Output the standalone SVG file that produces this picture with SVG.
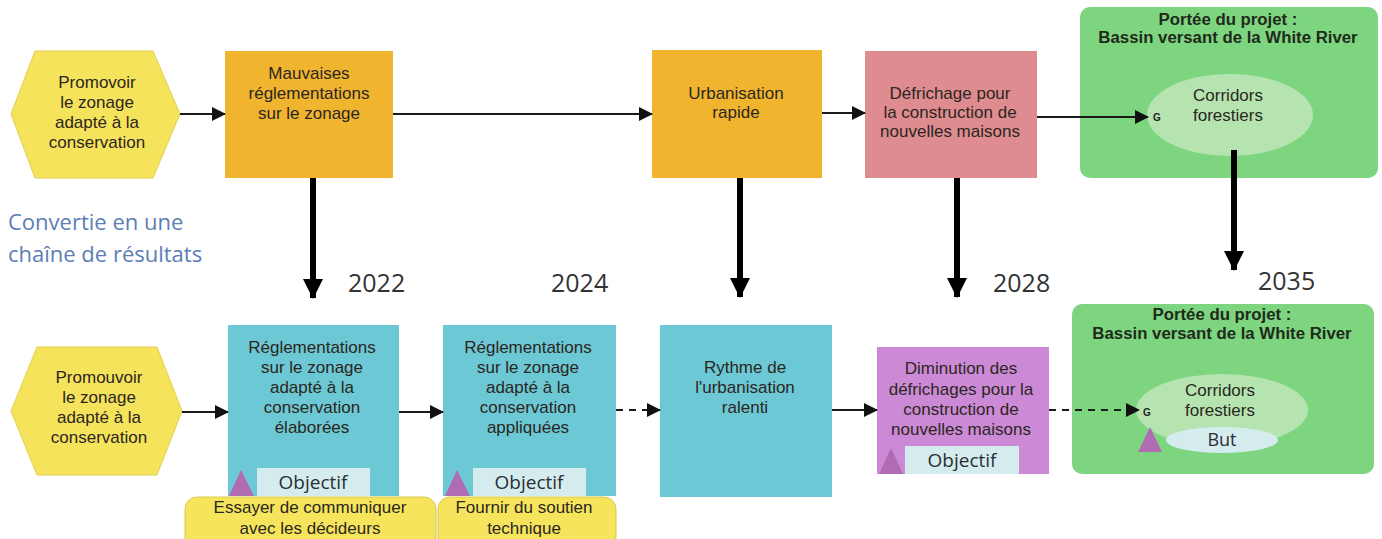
<svg xmlns="http://www.w3.org/2000/svg" width="1382" height="539" viewBox="0 0 1382 539">
<style>
.t{font-family:"Liberation Sans",Arial,sans-serif;font-size:17px;fill:#2b2620;text-anchor:middle}
.tb{font-family:"Liberation Sans",Arial,sans-serif;font-size:16.8px;font-weight:bold;fill:#1f2a1c;text-anchor:middle}
.os{font-family:"Open Sans",sans-serif;fill:#2a2f33;text-anchor:middle}
.yr{font-family:"Open Sans",sans-serif;font-size:25px;fill:#333}
.hex{fill:#F6E35C;stroke:#E3CF4A;stroke-width:1}
.org{fill:#F0B42F}
.pink{fill:#DF8C90}
.cyan{fill:#6CC8D5}
.purple{fill:#CC8AD6}
.green{fill:#7ED57F}
.ell{fill:#B5E4B1}
.obj{fill:#D5ECEF}
.tri{fill:#B06BB3}
.yel{fill:#F6E55C;stroke:#D9C850;stroke-width:1}
.thin{stroke:#1a1a1a;stroke-width:2;fill:none}
.dash{stroke:#1a1a1a;stroke-width:2;fill:none;stroke-dasharray:7 6}
.thick{stroke:#000;stroke-width:6;fill:none}
</style>
<defs>
<marker id="ah" viewBox="0 0 14 14" markerWidth="14" markerHeight="14" refX="13" refY="7" orient="auto" markerUnits="userSpaceOnUse">
<path d="M0,0 L14,7 L0,14 z" fill="#111"/>
</marker>
<marker id="ahb" viewBox="0 0 22 20" markerWidth="22" markerHeight="20" refX="19" refY="10" orient="auto" markerUnits="userSpaceOnUse">
<path d="M0,0 L20,10 L0,20 z" fill="#000"/>
</marker>
</defs>

<rect width="1382" height="539" fill="#fff"/>

<g id="label-convertie">
<text x="8" y="230" style="font-family:'Open Sans',sans-serif;font-size:22px;fill:#5B7EB5">Convertie en une</text>
<text x="8" y="262" style="font-family:'Open Sans',sans-serif;font-size:22px;fill:#5B7EB5">chaîne de résultats</text>
</g>

<g id="years">
<text class="yr" x="348" y="292">2022</text>
<text class="yr" x="551" y="292">2024</text>
<text class="yr" x="993" y="292">2028</text>
<text class="yr" x="1258" y="290">2035</text>
</g>

<!-- Top row -->
<g id="top-hex">
<polygon class="hex" points="11,114 35,51 153,51 180,114 153,178 35,178"/>
<text class="t" x="97" y="88">Promovoir</text>
<text class="t" x="97" y="108">le zonage</text>
<text class="t" x="97" y="128">adapté à la</text>
<text class="t" x="97" y="148">conservation</text>
</g>

<g id="top-mauvaises">
<rect class="org" x="225" y="51" width="168" height="127"/>
<text class="t" x="309" y="79">Mauvaises</text>
<text class="t" x="309" y="99">réglementations</text>
<text class="t" x="309" y="119">sur le zonage</text>
</g>

<g id="top-urbanisation">
<rect class="org" x="652" y="50" width="170" height="128"/>
<text class="t" x="736" y="99">Urbanisation</text>
<text class="t" x="736" y="118">rapide</text>
</g>

<g id="top-defrichage">
<rect class="pink" x="865" y="51" width="172" height="127"/>
<text class="t" x="950" y="99">Défrichage pour</text>
<text class="t" x="950" y="118">la construction de</text>
<text class="t" x="950" y="137">nouvelles maisons</text>
</g>

<g id="top-portee">
<rect class="green" x="1080" y="7" width="298" height="171" rx="10"/>
<text class="tb" x="1228" y="25">Portée du projet :</text>
<text class="tb" x="1228" y="43">Bassin versant de la White River</text>
<ellipse class="ell" cx="1230" cy="115" rx="83" ry="41"/>
<text class="t" x="1228" y="101">Corridors</text>
<text class="t" x="1228" y="121">forestiers</text>
<text x="1157" y="121" style="font-family:'Liberation Sans',Arial,sans-serif;font-size:10px;font-weight:bold;fill:#222;text-anchor:middle">G</text>
</g>

<!-- Bottom row -->
<g id="bot-hex">
<polygon class="hex" points="11,411 37,347 157,347 182,411 157,475 37,475"/>
<text class="t" x="99" y="383">Promouvoir</text>
<text class="t" x="99" y="403">le zonage</text>
<text class="t" x="99" y="423">adapté à la</text>
<text class="t" x="99" y="443">conservation</text>
</g>

<g id="bot-elaborees">
<rect class="cyan" x="228" y="325" width="171" height="171"/>
<text class="t" x="312" y="353">Réglementations</text>
<text class="t" x="312" y="373">sur le zonage</text>
<text class="t" x="312" y="393">adapté à la</text>
<text class="t" x="312" y="413">conservation</text>
<text class="t" x="312" y="433">élaborées</text>
<rect class="obj" x="257" y="468" width="113" height="28"/>
<text class="os" x="313" y="489" style="font-size:19px">Objectif</text>
<polygon class="tri" points="229,496 241,470 254,496"/>
</g>

<g id="bot-appliquees">
<rect class="cyan" x="443" y="325" width="173" height="171"/>
<text class="t" x="528" y="353">Réglementations</text>
<text class="t" x="528" y="373">sur le zonage</text>
<text class="t" x="528" y="393">adapté à la</text>
<text class="t" x="528" y="413">conservation</text>
<text class="t" x="528" y="433">appliquées</text>
<rect class="obj" x="473" y="468" width="113" height="28"/>
<text class="os" x="529" y="489" style="font-size:19px">Objectif</text>
<polygon class="tri" points="445,496 457,470 470,496"/>
</g>

<g id="bot-yellow-1">
<rect class="yel" x="185" y="497" width="251" height="52" rx="12"/>
<text class="t" x="310" y="513">Essayer de communiquer</text>
<text class="t" x="310" y="534">avec les décideurs</text>
</g>

<g id="bot-yellow-2">
<rect class="yel" x="438" y="497" width="178" height="52" rx="12"/>
<text class="t" x="524" y="513">Fournir du soutien</text>
<text class="t" x="524" y="534">technique</text>
</g>

<g id="bot-rythme">
<rect class="cyan" x="660" y="325" width="172" height="172"/>
<text class="t" x="745" y="373">Rythme de</text>
<text class="t" x="745" y="393">l'urbanisation</text>
<text class="t" x="745" y="413">ralenti</text>
</g>

<g id="bot-diminution">
<rect class="purple" x="877" y="347" width="172" height="127"/>
<text class="t" x="961" y="374">Diminution des</text>
<text class="t" x="961" y="395">défrichages pour la</text>
<text class="t" x="961" y="415">construction de</text>
<text class="t" x="961" y="435">nouvelles maisons</text>
<rect class="obj" x="905" y="446" width="114" height="28"/>
<text class="os" x="962" y="467" style="font-size:19px">Objectif</text>
<polygon class="tri" points="879,474 891,448 903,474"/>
</g>

<g id="bot-portee">
<rect class="green" x="1072" y="304" width="302" height="170" rx="10"/>
<text class="tb" x="1222" y="320">Portée du projet :</text>
<text class="tb" x="1222" y="339">Bassin versant de la White River</text>
<ellipse class="ell" cx="1222" cy="410" rx="86" ry="36"/>
<text class="t" x="1220" y="396">Corridors</text>
<text class="t" x="1220" y="416">forestiers</text>
<ellipse class="obj" cx="1222" cy="440" rx="56" ry="13"/>
<text class="os" x="1222" y="446" style="font-size:18px">But</text>
<text x="1147" y="416" style="font-family:'Liberation Sans',Arial,sans-serif;font-size:10px;font-weight:bold;fill:#222;text-anchor:middle">G</text>
<polygon class="tri" points="1138,452 1150,427 1162,452"/>
</g>

<g id="connectors">
<line class="thin" x1="180" y1="114" x2="225" y2="114" marker-end="url(#ah)"/>
<line class="thin" x1="393" y1="114" x2="652" y2="114" marker-end="url(#ah)"/>
<line class="thin" x1="822" y1="113" x2="865" y2="113" marker-end="url(#ah)"/>
<line class="thin" x1="1037" y1="117" x2="1148" y2="117" marker-end="url(#ah)"/>
<line class="thick" x1="313" y1="178" x2="313" y2="298" marker-end="url(#ahb)"/>
<line class="thick" x1="740" y1="178" x2="740" y2="297" marker-end="url(#ahb)"/>
<line class="thick" x1="957" y1="178" x2="957" y2="297" marker-end="url(#ahb)"/>
<line class="thick" x1="1234" y1="150" x2="1234" y2="270" marker-end="url(#ahb)"/>
<line class="thin" x1="182" y1="412" x2="228" y2="412" marker-end="url(#ah)"/>
<line class="thin" x1="399" y1="412" x2="443" y2="412" marker-end="url(#ah)"/>
<line class="dash" x1="616" y1="410" x2="660" y2="410" marker-end="url(#ah)"/>
<line class="thin" x1="832" y1="410" x2="877" y2="410" marker-end="url(#ah)"/>
<line class="dash" x1="1049" y1="410" x2="1139" y2="410" marker-end="url(#ah)"/>
</g>
</svg>
